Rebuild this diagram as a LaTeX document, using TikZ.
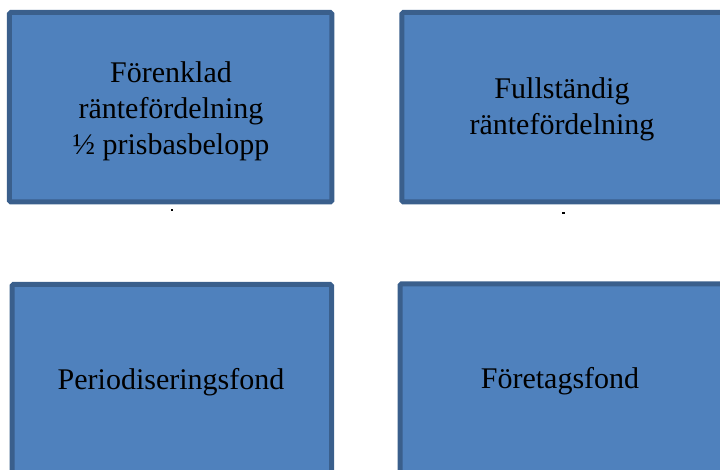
\documentclass[tikz,border=0pt]{standalone}
\usepackage{fontspec}
\setmainfont{Liberation Serif}
\definecolor{boxfill}{HTML}{4F81BD}
\definecolor{boxline}{HTML}{3A5F8C}
\begin{document}
\begin{tikzpicture}[x=1pt,y=-1pt,
  panel/.style={draw=boxline, fill=boxfill, line width=5pt, rounded corners=1.5pt,
    rectangle, inner sep=0pt},
  caption/.style={inner sep=0pt, align=center, text=black,
    font=\fontsize{30}{36}\selectfont}]
\useasboundingbox (0,0) rectangle (720,470);
% four panels
\node[panel, minimum width=322.5pt, minimum height=189.5pt] (tl) at (170.55,107.25) {};
\node[panel, minimum width=322.2pt, minimum height=189.5pt] (tr) at (562.9,107.25) {};
\node[panel, minimum width=319.5pt, minimum height=191.5pt] (bl) at (171.75,380.25) {};
\node[panel, minimum width=324pt, minimum height=192pt] (br) at (562,380) {};
% panel texts
\node[caption] (tltext) at (171,111) {Förenklad\\räntefördelning\\½ prisbasbelopp};
\node[caption] (trtext) at (562,109) {Fullständig\\räntefördelning};
\node[caption] (bltext) at (171,382) {Periodiseringsfond};
\node[caption] (brtext) at (560,381) {Företagsfond};
% small marks under the upper panels
\fill[black] (170.5,209) rectangle (173,211);
\fill[black] (562,212) rectangle (564.5,214);
\end{tikzpicture}
\end{document}
